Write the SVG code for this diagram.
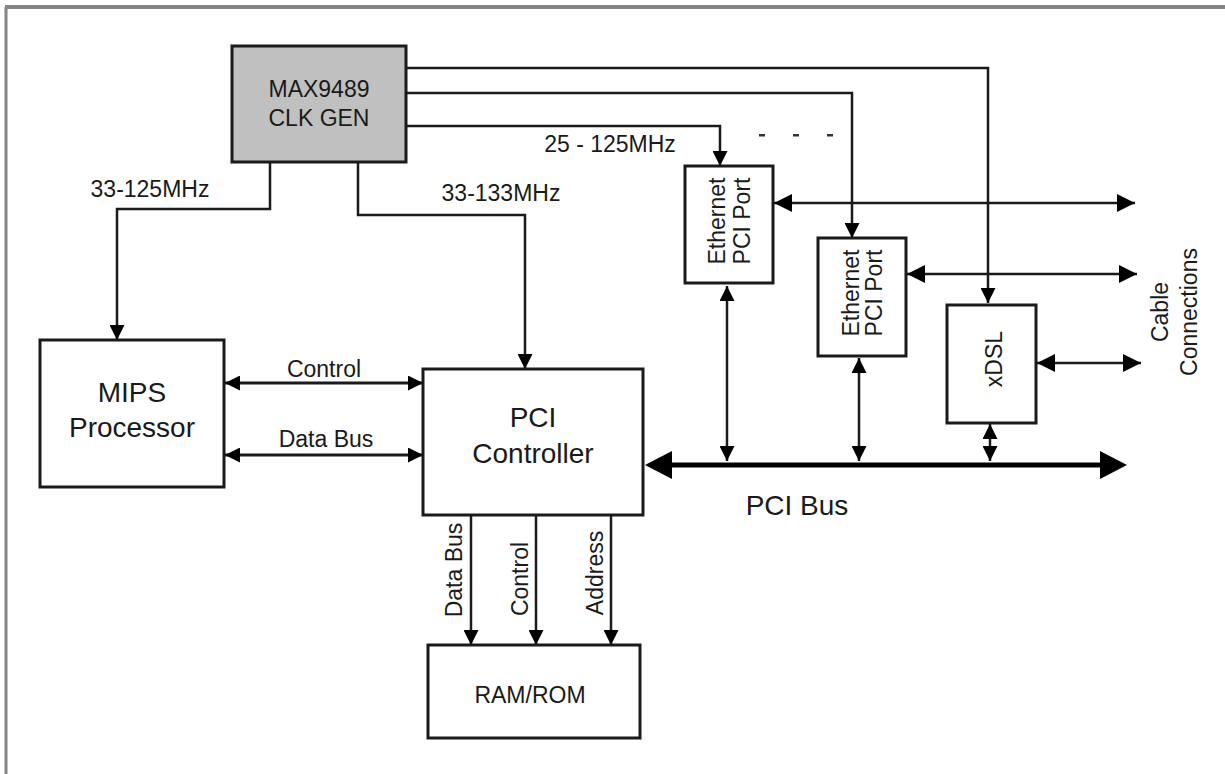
<svg xmlns="http://www.w3.org/2000/svg" width="1225" height="774" viewBox="0 0 1225 774">
<style>
.box{fill:#fff;stroke:#1a1a1a;stroke-width:3}
.gray{fill:#c0c0c0}
.t{font-family:"Liberation Sans",Arial,sans-serif;font-size:23px;fill:#1a1a1a;text-anchor:middle}
.big{font-size:28px}
.ln{fill:none;stroke:#1a1a1a;stroke-width:2.5}
.thk{stroke-width:3}
.bus{fill:none;stroke:#000;stroke-width:5}
.frame{stroke:#858585;fill:none}
</style>
<defs>
<marker id="a" markerUnits="userSpaceOnUse" markerWidth="15" markerHeight="15" refX="15" refY="7.5" orient="auto-start-reverse"><path d="M0,0 L15,7.5 L0,15 z" fill="#000"/></marker>
<marker id="c" markerUnits="userSpaceOnUse" markerWidth="18" markerHeight="18" refX="18" refY="9" orient="auto-start-reverse"><path d="M0,0 L18,9 L0,18 z" fill="#000"/></marker>
<marker id="b" markerUnits="userSpaceOnUse" markerWidth="27" markerHeight="28" refX="17" refY="14" orient="auto-start-reverse"><path d="M0,0 L27,14 L0,28 z" fill="#000"/></marker>
</defs>
<rect width="1225" height="774" fill="#fff"/>
<line class="frame" x1="5" y1="7" x2="1225" y2="7" stroke-width="4"/>
<line class="frame" x1="6" y1="7" x2="6" y2="774" stroke-width="3"/>

<g id="connectors">
<path class="ln" d="M406,68 H988 V303" marker-end="url(#a)"/>
<path class="ln" d="M406,93 H852 V238" marker-end="url(#a)"/>
<path class="ln" d="M406,126 H720 V166" marker-end="url(#a)"/>
<path class="ln" d="M270,162 V209 H117 V340" marker-end="url(#a)"/>
<path class="ln" d="M358,162 V215 H525 V369" marker-end="url(#a)"/>
<path class="ln thk" d="M225,383 H423" marker-start="url(#a)" marker-end="url(#a)"/>
<path class="ln thk" d="M225,455 H423" marker-start="url(#a)" marker-end="url(#a)"/>
<path class="ln" d="M774,203 H1135" marker-start="url(#c)" marker-end="url(#c)"/>
<path class="ln" d="M907,274 H1137" marker-start="url(#c)" marker-end="url(#c)"/>
<path class="ln" d="M1037,363 H1141" marker-start="url(#c)" marker-end="url(#c)"/>
<path class="ln" d="M727,286 V461" marker-start="url(#a)" marker-end="url(#a)"/>
<path class="ln" d="M859,358 V461" marker-start="url(#a)" marker-end="url(#a)"/>
<path class="ln" d="M990,424 V461" marker-start="url(#a)" marker-end="url(#a)"/>
<path class="bus" d="M655,465 H1117" marker-start="url(#b)" marker-end="url(#b)"/>
<path class="ln" d="M471,516 V645" marker-end="url(#a)"/>
<path class="ln" d="M536,516 V645" marker-end="url(#a)"/>
<path class="ln" d="M611,516 V645" marker-end="url(#a)"/>
<g fill="#333">
<rect x="759" y="134" width="6" height="2.5"/>
<rect x="793" y="134" width="6" height="2.5"/>
<rect x="827" y="134" width="6" height="2.5"/>
</g>
<text class="t" x="150" y="197">33-125MHz</text>
<text class="t" x="501" y="201">33-133MHz</text>
<text class="t" x="610" y="152">25 - 125MHz</text>
<text class="t" x="324" y="377">Control</text>
<text class="t" x="326" y="447">Data Bus</text>
<text class="t big" x="797" y="515">PCI Bus</text>
<text class="t" transform="translate(462,570) rotate(-90)">Data Bus</text>
<text class="t" transform="translate(528,579) rotate(-90)">Control</text>
<text class="t" transform="translate(603,573) rotate(-90)">Address</text>
<text class="t" transform="translate(1168,312) rotate(-90)">Cable</text>
<text class="t" transform="translate(1197,312) rotate(-90)">Connections</text>
</g>

<g id="clkgen">
<rect class="box gray" x="232" y="46" width="174" height="116"/>
<text class="t" x="319" y="97">MAX9489</text>
<text class="t" x="319" y="126">CLK GEN</text>
</g>
<g id="mips">
<rect class="box" x="40" y="340" width="184" height="147"/>
<text class="t big" x="132" y="402">MIPS</text>
<text class="t big" x="132" y="437">Processor</text>
</g>
<g id="pcictrl">
<rect class="box" x="423" y="369" width="220" height="146"/>
<text class="t big" x="533" y="427">PCI</text>
<text class="t big" x="533" y="463">Controller</text>
</g>
<g id="ramrom">
<rect class="box" x="428" y="645" width="212" height="93"/>
<text class="t" x="530" y="703">RAM/ROM</text>
</g>
<g id="eth1">
<rect class="box" x="685" y="166" width="88" height="117"/>
<text class="t" transform="translate(725,221) rotate(-90)">Ethernet</text>
<text class="t" transform="translate(750,221) rotate(-90)">PCI Port</text>
</g>
<g id="eth2">
<rect class="box" x="818" y="238" width="88" height="118"/>
<text class="t" transform="translate(859,293) rotate(-90)">Ethernet</text>
<text class="t" transform="translate(882,293) rotate(-90)">PCI Port</text>
</g>
<g id="xdsl">
<rect class="box" x="947" y="305" width="89" height="118"/>
<text class="t" transform="translate(1002,359) rotate(-90)">xDSL</text>
</g>
</svg>
